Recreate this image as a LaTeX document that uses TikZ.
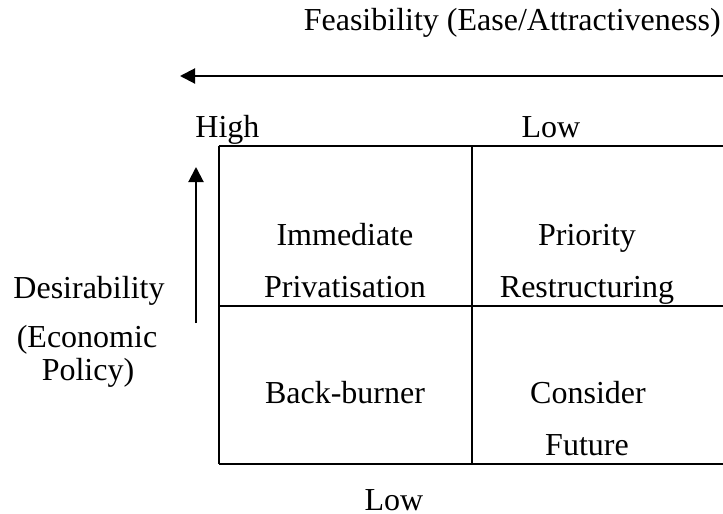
\documentclass[tikz,border=0pt]{standalone}
\usepackage{fontspec}
\setmainfont{Liberation Serif}
\usetikzlibrary{arrows.meta,positioning}

\begin{document}
\begin{tikzpicture}[
      x=0.5pt, y=-0.5pt,
      grid/.style={draw, line width=1pt},
      axis/.style={draw, line width=1pt, -{Triangle[length=7.5pt,width=7.5pt]}},
      lab/.style={inner sep=0, anchor=base, font={\fontsize{16}{19}\selectfont}},
      node distance=0pt
  ]
  \useasboundingbox (0,0) rectangle (723,514);

  \coordinate (tl) at (218.5,146);
  \coordinate (tm) at (472,146);
  \coordinate (tr) at (723,146);
  \coordinate (ml) at (218.5,305.5);
  \coordinate (mr) at (723,305.5);
  \coordinate (bl) at (218.5,464);
  \coordinate (bm) at (472,464);
  \coordinate (br) at (723,464);
  \coordinate (feasstart) at (723,76);
  \coordinate (feasend) at (180,76);
  \coordinate (desstart) at (196,323);
  \coordinate (desend) at (196,167);

  \draw[grid] (tl) -- (tr);
  \draw[grid] (ml) -- (mr);
  \draw[grid] (bl) -- (br);
  \draw[grid] (tl) -- (bl);
  \draw[grid] (tm) -- (bm);

  \draw[axis] (feasstart) -- (feasend);
  \draw[axis] (desstart) -- (desend);

  \node[lab, anchor=base east] (feas) at (721,30) {Feasibility (Ease/Attractiveness)};
  \node[lab, anchor=base west] (high) at (195,137) {High};
  \node[lab] (lowtop) at (551,137) {Low};
  \node[lab] (lowbot) at (394,510) {Low};

  \node[lab] (des) at (89,298) {Desirability};
  \node[lab] (econ) at (87,347) {(Economic};
  \node[lab] (policy) at (88,380) {Policy)};

  \node[lab] (immediate) at (345,245) {Immediate};
  \node[lab] (privat) at (345,297) {Privatisation};
  \node[lab] (priority) at (587,245) {Priority};
  \node[lab] (restruct) at (587,297) {Restructuring};
  \node[lab] (backburner) at (345,403) {Back-burner};
  \node[lab] (consider) at (588,403) {Consider};
  \node[lab] (future) at (587,455) {Future};

\end{tikzpicture}
\end{document}
